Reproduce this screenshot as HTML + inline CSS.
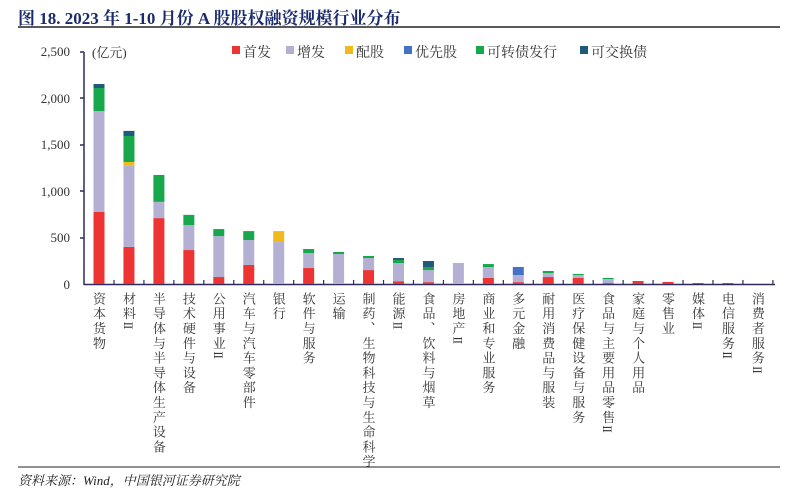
<!DOCTYPE html>
<html><head><meta charset="utf-8"><style>
body{margin:0;width:794px;height:496px;background:#fff;position:relative;overflow:hidden;font-family:"Liberation Serif","Noto Serif CJK SC",serif;}
.t{position:absolute;left:18px;top:4px;font-size:17px;font-weight:bold;color:#1a2a6c;font-family:"Liberation Serif","Noto Serif CJK SC",serif;}
.lbl{position:absolute;top:292px;writing-mode:vertical-rl;font-size:13px;letter-spacing:1.8px;color:#333;line-height:13px;}
.lbl span{letter-spacing:-1px;}
.src{position:absolute;left:18px;top:470px;font-size:13px;font-style:italic;color:#222;}
</style></head><body>
<div class="t">图 18. 2023 年 1-10 月份 A 股股权融资规模行业分布</div>
<svg width="794" height="496" style="position:absolute;left:0;top:0">
<line x1="18" y1="27" x2="780" y2="27" stroke="#222" stroke-width="1.5"/>
<line x1="18" y1="467" x2="780" y2="467" stroke="#222" stroke-width="1"/>
<g font-family="Liberation Serif" font-size="13" fill="#333" text-anchor="end">
<text x="70" y="56">2,500</text><text x="70" y="103">2,000</text><text x="70" y="149">1,500</text><text x="70" y="196">1,000</text><text x="70" y="242">500</text><text x="70" y="289">0</text>
</g>
<text x="92" y="57" font-size="13" fill="#333" font-family="Liberation Serif,Noto Serif CJK SC,serif">(亿元)</text>
<g stroke="#2e2a5e" stroke-width="1.5">
<line x1="84" y1="52" x2="84" y2="285"/>
<line x1="84" y1="284.5" x2="775" y2="284.5"/>
<line x1="80" y1="52" x2="84" y2="52"/><line x1="80" y1="98" x2="84" y2="98"/><line x1="80" y1="145" x2="84" y2="145"/><line x1="80" y1="191" x2="84" y2="191"/><line x1="80" y1="238" x2="84" y2="238"/>
</g>
<g id="ticks" stroke="#2e2a5e" stroke-width="1.2"></g>
<g id="bars"></g>
<g font-size="14" fill="#333" font-family="Liberation Serif,Noto Serif CJK SC,serif">
<rect x="232" y="46" width="8" height="8" fill="#ee3333"/><text x="243" y="57">首发</text>
<rect x="286" y="46" width="8" height="8" fill="#b4b0d4"/><text x="297" y="57">增发</text>
<rect x="345" y="46" width="8" height="8" fill="#f2b91a"/><text x="356" y="57">配股</text>
<rect x="404" y="46" width="8" height="8" fill="#4472c4"/><text x="415" y="57">优先股</text>
<rect x="476" y="46" width="8" height="8" fill="#16a84a"/><text x="487" y="57">可转债发行</text>
<rect x="580" y="46" width="8" height="8" fill="#1f5a7a"/><text x="591" y="57">可交换债</text>
</g>
</svg>
<div id="labels"></div>
<div class="src">资料来源：Wind，中国银河证券研究院</div>
<script>
var names=["资本货物","材料II","半导体与半导体生产设备","技术硬件与设备","公用事业II","汽车与汽车零部件","银行","软件与服务","运输","制药、生物科技与生命科学","能源II","食品、饮料与烟草","房地产II","商业和专业服务","多元金融","耐用消费品与服装","医疗保健设备与服务","食品与主要用品零售II","家庭与个人用品","零售业","媒体II","电信服务II","消费者服务II"];
var d=[[776,1088,0,0,248,43],[400,880,35,0,280,55],[710,175,0,0,290,0],[366,269,0,0,110,0],[75,442,0,0,75,0],[205,269,0,0,96,0],[0,452,118,0,0,0],[172,162,0,0,43,0],[0,323,0,0,22,0],[150,130,0,0,22,0],[30,196,0,0,33,21],[20,130,0,0,33,65],[0,226,0,0,0,0],[65,118,0,0,32,0],[20,77,0,86,0,0],[75,43,0,0,22,0],[65,32,0,0,11,0],[10,44,0,0,11,0],[32,0,0,0,0,0],[22,0,0,0,0,0],[5,0,0,0,0,5],[5,0,0,0,0,5],[0,0,0,0,0,0]];
var col=["#ee3333","#b4b0d4","#f2b91a","#4472c4","#16a84a","#1f5a7a"];
var ns="http://www.w3.org/2000/svg",bars=document.getElementById("bars"),tk=document.getElementById("ticks"),L=document.getElementById("labels");
var k=0.0928,y0=284,sp=29.95,x0=99;
for(var i=0;i<23;i++){var cx=x0+i*sp,y=y0;
 for(var j=0;j<6;j++){var h=d[i][j]*k;if(h<=0)continue;var r=document.createElementNS(ns,"rect");r.setAttribute("x",cx-5.5);r.setAttribute("width",11);r.setAttribute("y",y-h);r.setAttribute("height",h);r.setAttribute("fill",col[j]);bars.appendChild(r);y-=h;}
 var l=document.createElementNS(ns,"line");var tx=cx+sp/2;l.setAttribute("x1",tx);l.setAttribute("x2",tx);l.setAttribute("y1",280);l.setAttribute("y2",284);tk.appendChild(l);
 var dv=document.createElement("div");dv.className="lbl";dv.style.left=(cx-7)+"px";
 var n=names[i];if(n.slice(-2)=="II"){dv.textContent=n.slice(0,-2);var s=document.createElement("span");s.textContent="II";dv.appendChild(s);}else dv.textContent=n;
 L.appendChild(dv);}
</script>
</body></html>
